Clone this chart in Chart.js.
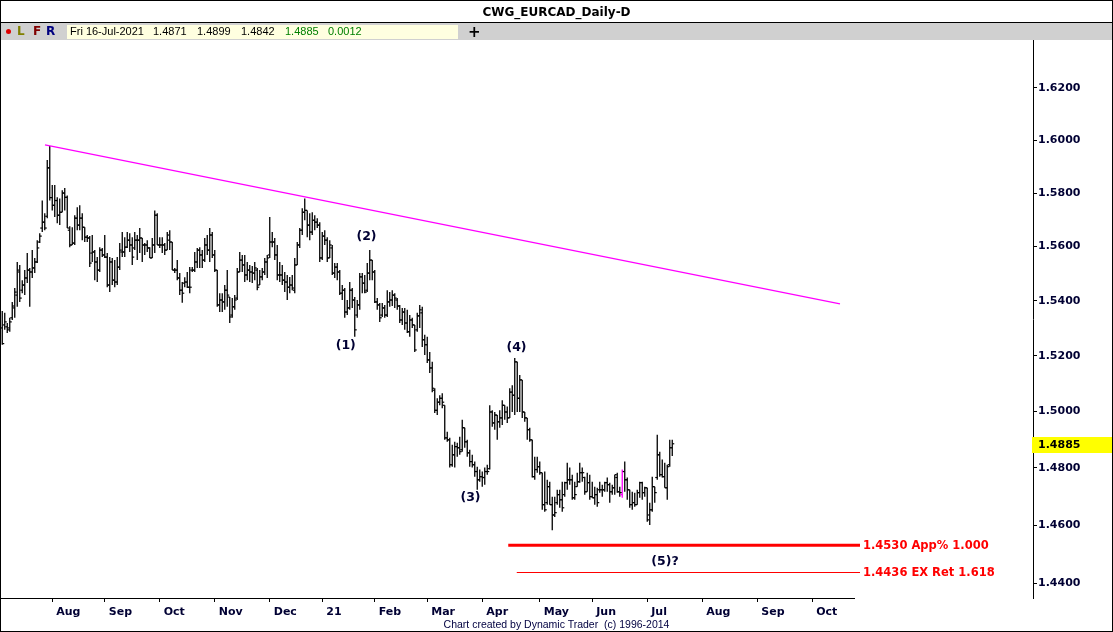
<!DOCTYPE html>
<html><head><meta charset="utf-8">
<script src="https://cdn.jsdelivr.net/npm/chart.js@4.4.1/dist/chart.umd.min.js"></script>
<style>
html,body{margin:0;padding:0;background:#fff;}
#wrap{position:relative;width:1113px;height:632px;overflow:hidden;background:#fff;}
#c{position:absolute;left:0;top:0;}
.abs{position:absolute;white-space:pre;}
#title{left:0;top:5px;width:1113px;height:14px;line-height:14px;text-align:center;font:bold 12px "DejaVu Sans",sans-serif;color:#000;}
#sep{left:0;top:22px;width:1113px;height:1px;background:#000;}
#tbar{left:0;top:23px;width:1113px;height:17px;background:#d0d0d0;}
#ybox{left:67px;top:25px;width:391px;height:14px;background:#ffffe0;}
.tb{top:25px;line-height:14px;font:11px "Liberation Sans",Arial,sans-serif;color:#000;}
.g{color:#008000;}
.lfr{top:24px;line-height:15px;font:bold 12px "DejaVu Sans",sans-serif;}
#dot{left:6px;top:29px;width:5px;height:5px;border-radius:50%;background:#e00000;}
#plus{left:468px;top:23px;line-height:16px;font:bold 15px "DejaVu Sans",sans-serif;color:#000;}
#frame{left:0;top:0;width:1113px;height:632px;box-sizing:border-box;border:1px solid #000;pointer-events:none;}
#foot{left:0;width:1113px;top:618px;line-height:12px;text-align:center;font:10.5px "Liberation Sans",Arial,sans-serif;color:#000040;}
</style></head><body>
<div id="wrap">
<canvas id="c" width="1113" height="632"></canvas>
<div class="abs" id="title">CWG_EURCAD_Daily-D</div>
<div class="abs" id="sep"></div>
<div class="abs" id="tbar"></div>
<div class="abs" id="dot"></div>
<div class="abs lfr" style="left:17px;color:#808000">L</div>
<div class="abs lfr" style="left:33px;color:#800000">F</div>
<div class="abs lfr" style="left:46px;color:#000080">R</div>
<div class="abs" id="ybox"></div>
<div class="abs tb" style="left:70px">Fri 16-Jul-2021</div>
<div class="abs tb" style="left:153px">1.4871</div>
<div class="abs tb" style="left:197px">1.4899</div>
<div class="abs tb" style="left:241px">1.4842</div>
<div class="abs tb g" style="left:285px">1.4885</div>
<div class="abs tb g" style="left:328px">0.0012</div>
<div class="abs" id="plus">+</div>
<div class="abs" id="foot">Chart created by Dynamic Trader  (c) 1996-2014</div>
<div class="abs" id="frame"></div>
</div>
<script>
// ---- data (daily bars, Jul 6 2020 .. Jul 16 2021) ----
const opens = [
1.5301,1.5312,1.5305,1.5301,1.5338,1.5374,1.5421,1.5506,1.5439,1.5458,
1.5484,1.5513,1.5506,1.5521,1.5543,1.5617,1.5669,1.5691,1.5713,1.5895,
1.5783,1.5754,1.5772,1.5717,1.5728,1.5800,1.5784,1.5661,1.5606,1.5613,
1.5706,1.5680,1.5706,1.5672,1.5635,1.5632,1.5576,1.5580,1.5543,1.5513,
1.5587,1.5569,1.5561,1.5458,1.5543,1.5476,1.5469,1.5524,1.5580,1.5580,
1.5598,1.5624,1.5606,1.5595,1.5624,1.5624,1.5632,1.5606,1.5606,1.5595,
1.5558,1.5606,1.5717,1.5606,1.5606,1.5606,1.5587,1.5624,1.5617,1.5513,
1.5513,1.5484,1.5439,1.5465,1.5469,1.5450,1.5513,1.5513,1.5543,1.5587,
1.5569,1.5550,1.5606,1.5587,1.5643,1.5569,1.5513,1.5385,1.5403,1.5396,
1.5439,1.5414,1.5348,1.5378,1.5410,1.5506,1.5550,1.5532,1.5495,1.5513,
1.5506,1.5502,1.5513,1.5458,1.5488,1.5506,1.5543,1.5569,1.5617,1.5617,
1.5569,1.5495,1.5495,1.5476,1.5469,1.5450,1.5458,1.5439,1.5532,1.5606,
1.5661,1.5728,1.5735,1.5680,1.5654,1.5698,1.5691,1.5680,1.5558,1.5639,
1.5624,1.5558,1.5595,1.5502,1.5524,1.5506,1.5428,1.5439,1.5359,1.5374,
1.5439,1.5403,1.5348,1.5385,1.5488,1.5465,1.5439,1.5502,1.5550,1.5506,
1.5396,1.5385,1.5348,1.5374,1.5348,1.5396,1.5403,1.5421,1.5403,1.5381,
1.5330,1.5359,1.5319,1.5287,1.5330,1.5312,1.5294,1.5345,1.5356,1.5258,
1.5240,1.5185,1.5156,1.5076,1.5004,1.5033,1.5047,1.5022,1.4906,1.4899,
1.4811,1.4846,1.4875,1.4871,1.4864,1.4942,1.4892,1.4853,1.4822,1.4811,
1.4787,1.4758,1.4769,1.4766,1.4787,1.4797,1.4998,1.4959,1.4987,1.4963,
1.4977,1.5022,1.4998,1.4977,1.5069,1.5058,1.5178,1.5047,1.5113,1.4998,
1.4977,1.4935,1.4899,1.4769,1.4794,1.4804,1.4783,1.4671,1.4678,1.4734,
1.4671,1.4635,1.4678,1.4706,1.4688,1.4706,1.4748,1.4758,1.4758,1.4695,
1.4734,1.4751,1.4783,1.4766,1.4716,1.4748,1.4699,1.4695,1.4706,1.4723,
1.4723,1.4723,1.4748,1.4741,1.4716,1.4730,1.4766,1.4716,1.4706,1.4787,
1.4758,1.4723,1.4671,1.4678,1.4671,1.4713,1.4748,1.4713,1.4730,1.4635,
1.4653,1.4734,1.4766,1.4846,1.4776,1.4769,1.4730,1.4811,1.4871];
const highs = [
1.5363,1.5356,1.5319,1.5338,1.5396,1.5447,1.5543,1.5532,1.5476,1.5513,
1.5576,1.5521,1.5587,1.5558,1.5624,1.5650,1.5772,1.5724,1.5925,1.5978,
1.5830,1.5830,1.5784,1.5780,1.5811,1.5819,1.5791,1.5676,1.5672,1.5717,
1.5747,1.5754,1.5724,1.5672,1.5643,1.5639,1.5643,1.5587,1.5561,1.5598,
1.5595,1.5643,1.5576,1.5561,1.5558,1.5550,1.5561,1.5613,1.5654,1.5635,
1.5654,1.5650,1.5635,1.5654,1.5643,1.5669,1.5632,1.5613,1.5624,1.5598,
1.5632,1.5735,1.5724,1.5635,1.5635,1.5613,1.5654,1.5661,1.5617,1.5521,
1.5550,1.5502,1.5469,1.5487,1.5506,1.5524,1.5524,1.5580,1.5595,1.5598,
1.5587,1.5632,1.5643,1.5669,1.5654,1.5587,1.5513,1.5428,1.5428,1.5458,
1.5513,1.5414,1.5410,1.5421,1.5521,1.5580,1.5569,1.5569,1.5543,1.5532,
1.5528,1.5543,1.5521,1.5513,1.5521,1.5558,1.5569,1.5710,1.5654,1.5632,
1.5606,1.5543,1.5532,1.5506,1.5495,1.5488,1.5495,1.5558,1.5617,1.5669,
1.5743,1.5780,1.5735,1.5724,1.5728,1.5717,1.5706,1.5691,1.5654,1.5661,
1.5635,1.5624,1.5606,1.5539,1.5539,1.5513,1.5458,1.5447,1.5403,1.5469,
1.5447,1.5414,1.5403,1.5502,1.5502,1.5495,1.5539,1.5587,1.5550,1.5513,
1.5410,1.5392,1.5392,1.5385,1.5439,1.5432,1.5439,1.5428,1.5410,1.5385,
1.5374,1.5374,1.5367,1.5348,1.5338,1.5312,1.5356,1.5385,1.5378,1.5276,
1.5269,1.5214,1.5178,1.5083,1.5047,1.5058,1.5065,1.5022,1.4928,1.4906,
1.4882,1.4892,1.4889,1.4910,1.4970,1.4942,1.4899,1.4864,1.4846,1.4822,
1.4804,1.4794,1.4787,1.4801,1.4811,1.5022,1.5004,1.4998,1.4987,1.5004,
1.5040,1.5022,1.5018,1.5083,1.5094,1.5192,1.5178,1.5131,1.5113,1.4998,
1.4977,1.4942,1.4899,1.4839,1.4839,1.4822,1.4783,1.4787,1.4758,1.4751,
1.4699,1.4699,1.4723,1.4723,1.4751,1.4751,1.4818,1.4801,1.4776,1.4751,
1.4783,1.4818,1.4801,1.4769,1.4783,1.4776,1.4751,1.4734,1.4730,1.4751,
1.4741,1.4751,1.4766,1.4748,1.4741,1.4776,1.4783,1.4734,1.4794,1.4822,
1.4766,1.4723,1.4716,1.4713,1.4723,1.4751,1.4751,1.4734,1.4730,1.4678,
1.4769,1.4734,1.4917,1.4857,1.4829,1.4818,1.4811,1.4899,1.4899];
const lows = [
1.5240,1.5294,1.5283,1.5287,1.5330,1.5338,1.5378,1.5396,1.5428,1.5421,
1.5465,1.5378,1.5484,1.5502,1.5539,1.5613,1.5654,1.5661,1.5706,1.5772,
1.5735,1.5710,1.5687,1.5680,1.5728,1.5735,1.5669,1.5598,1.5606,1.5606,
1.5661,1.5661,1.5624,1.5617,1.5617,1.5524,1.5543,1.5476,1.5469,1.5506,
1.5561,1.5558,1.5450,1.5432,1.5458,1.5450,1.5458,1.5513,1.5561,1.5561,
1.5595,1.5580,1.5532,1.5587,1.5550,1.5576,1.5543,1.5569,1.5580,1.5558,
1.5558,1.5576,1.5606,1.5595,1.5576,1.5569,1.5587,1.5587,1.5513,1.5502,
1.5476,1.5421,1.5393,1.5450,1.5447,1.5428,1.5506,1.5506,1.5521,1.5521,
1.5521,1.5543,1.5569,1.5543,1.5558,1.5506,1.5378,1.5359,1.5359,1.5367,
1.5378,1.5319,1.5338,1.5367,1.5403,1.5506,1.5506,1.5469,1.5476,1.5469,
1.5465,1.5476,1.5439,1.5458,1.5476,1.5495,1.5484,1.5558,1.5598,1.5550,
1.5476,1.5469,1.5458,1.5432,1.5403,1.5428,1.5439,1.5428,1.5532,1.5595,
1.5643,1.5698,1.5635,1.5624,1.5643,1.5661,1.5669,1.5543,1.5550,1.5606,
1.5543,1.5558,1.5495,1.5484,1.5476,1.5421,1.5403,1.5338,1.5348,1.5367,
1.5374,1.5269,1.5338,1.5367,1.5428,1.5428,1.5432,1.5476,1.5476,1.5392,
1.5367,1.5323,1.5341,1.5338,1.5341,1.5378,1.5381,1.5374,1.5367,1.5319,
1.5312,1.5294,1.5283,1.5269,1.5301,1.5214,1.5287,1.5301,1.5232,1.5203,
1.5174,1.5138,1.5069,1.4994,1.4987,1.5022,1.5011,1.4899,1.4892,1.4801,
1.4804,1.4801,1.4839,1.4846,1.4857,1.4871,1.4839,1.4804,1.4801,1.4769,
1.4723,1.4751,1.4734,1.4741,1.4776,1.4794,1.4945,1.4935,1.4899,1.4942,
1.4952,1.4970,1.4959,1.4977,1.4998,1.4987,1.4998,1.4998,1.4977,1.4963,
1.4899,1.4892,1.4766,1.4758,1.4783,1.4776,1.4653,1.4646,1.4671,1.4671,
1.4582,1.4628,1.4671,1.4660,1.4646,1.4699,1.4723,1.4741,1.4688,1.4688,
1.4734,1.4748,1.4751,1.4706,1.4716,1.4688,1.4695,1.4671,1.4664,1.4713,
1.4699,1.4716,1.4716,1.4678,1.4706,1.4706,1.4713,1.4699,1.4695,1.4716,
1.4688,1.4660,1.4653,1.4664,1.4671,1.4695,1.4688,1.4699,1.4611,1.4600,
1.4646,1.4678,1.4758,1.4769,1.4766,1.4730,1.4688,1.4804,1.4842];
const closes = [
1.5244,1.5323,1.5294,1.5323,1.5381,1.5432,1.5513,1.5410,1.5458,1.5484,
1.5513,1.5506,1.5521,1.5543,1.5595,1.5639,1.5691,1.5669,1.5895,1.5783,
1.5754,1.5772,1.5717,1.5728,1.5800,1.5784,1.5669,1.5606,1.5613,1.5706,
1.5680,1.5706,1.5672,1.5635,1.5632,1.5539,1.5580,1.5543,1.5513,1.5587,
1.5569,1.5561,1.5458,1.5543,1.5476,1.5469,1.5524,1.5587,1.5580,1.5598,
1.5624,1.5606,1.5561,1.5624,1.5624,1.5632,1.5606,1.5606,1.5595,1.5558,
1.5606,1.5717,1.5606,1.5606,1.5606,1.5587,1.5643,1.5617,1.5513,1.5513,
1.5484,1.5439,1.5428,1.5469,1.5450,1.5450,1.5513,1.5543,1.5587,1.5569,
1.5550,1.5606,1.5587,1.5643,1.5569,1.5513,1.5385,1.5403,1.5396,1.5439,
1.5421,1.5341,1.5378,1.5403,1.5506,1.5550,1.5532,1.5495,1.5513,1.5506,
1.5502,1.5521,1.5450,1.5488,1.5506,1.5543,1.5558,1.5617,1.5617,1.5569,
1.5495,1.5495,1.5476,1.5469,1.5450,1.5458,1.5447,1.5532,1.5606,1.5661,
1.5728,1.5735,1.5680,1.5654,1.5698,1.5691,1.5680,1.5558,1.5639,1.5624,
1.5558,1.5606,1.5502,1.5524,1.5506,1.5428,1.5439,1.5359,1.5374,1.5439,
1.5403,1.5294,1.5385,1.5488,1.5465,1.5432,1.5502,1.5550,1.5506,1.5396,
1.5385,1.5338,1.5374,1.5348,1.5396,1.5403,1.5421,1.5410,1.5381,1.5330,
1.5359,1.5319,1.5287,1.5330,1.5312,1.5221,1.5345,1.5367,1.5258,1.5240,
1.5185,1.5156,1.5083,1.5004,1.5033,1.5047,1.5033,1.4906,1.4899,1.4811,
1.4846,1.4875,1.4871,1.4857,1.4942,1.4892,1.4853,1.4822,1.4811,1.4787,
1.4758,1.4769,1.4766,1.4787,1.4787,1.4998,1.4959,1.4987,1.4963,1.4977,
1.5022,1.4998,1.4977,1.5069,1.5058,1.5178,1.5047,1.5113,1.4998,1.4977,
1.4935,1.4899,1.4769,1.4794,1.4804,1.4783,1.4671,1.4653,1.4734,1.4671,
1.4635,1.4643,1.4706,1.4688,1.4660,1.4748,1.4758,1.4758,1.4695,1.4706,
1.4751,1.4783,1.4783,1.4716,1.4748,1.4699,1.4695,1.4706,1.4678,1.4723,
1.4723,1.4748,1.4741,1.4716,1.4730,1.4776,1.4716,1.4713,1.4787,1.4758,
1.4723,1.4671,1.4678,1.4671,1.4713,1.4748,1.4713,1.4730,1.4618,1.4653,
1.4734,1.4713,1.4846,1.4776,1.4769,1.4730,1.4804,1.4871,1.4885];

const highlightIdx = 248;            // bar drawn in magenta
const monthLabels = ['Aug','Sep','Oct','Nov','Dec','21','Feb','Mar','Apr','May','Jun','Jul','Aug','Sep','Oct'];
const monthTickIdx = [20,41,63,85,107,128,149,170,192,215,236,258,280,302,324];
const yTicks = [1.44,1.46,1.48,1.50,1.52,1.54,1.56,1.58,1.60,1.62];

const trendIdx = [17.1, 335.1];
const trendVal = [1.5982, 1.5389];

const targetLevels = [1.4530, 1.4436];
const targetNames = ['App% 1.000', 'EX Ret 1.618'];
const targetStartIdx = [202.4, 205.8];
const targetEndIdx = 343.1;
const targetWidths = [3, 1];

const waveLabels = ['(1)','(2)','(3)','(4)','(5)?'];
const waveIdx = [137.4, 145.7, 187.3, 205.7, 265.1];
const wavePrice = [1.5236, 1.5635, 1.4695, 1.5230, 1.4472];

const axisEndIdx = 341.1;
const lastClose = closes[closes.length - 1];

// ---- chart ----
const NAVY = '#000033';
const FONT = 'DejaVu Sans';
const barColor = c => c.dataIndex === highlightIdx ? '#ff00ff' : '#000000';

const overlay = {
  id: 'overlay',
  afterDatasetsDraw(chart) {
    const {ctx, scales:{x, y}} = chart;
    ctx.save();
    ctx.font = 'bold 12.5px "' + FONT + '"';
    ctx.fillStyle = NAVY;
    ctx.textAlign = 'center';
    ctx.textBaseline = 'middle';
    waveLabels.forEach((t, i) => ctx.fillText(t, x.getPixelForValue(waveIdx[i]), y.getPixelForValue(wavePrice[i])));
    ctx.font = 'bold 11.5px "' + FONT + '"';
    ctx.fillStyle = '#ff0000';
    ctx.textAlign = 'left';
    targetLevels.forEach((v, i) => ctx.fillText(v.toFixed(4) + ' ' + targetNames[i], x.getPixelForValue(targetEndIdx) + 3, y.getPixelForValue(v) + 1));
    ctx.restore();
  },
  afterDraw(chart) {
    const {ctx, chartArea, scales:{x, y}} = chart;
    ctx.save();
    ctx.strokeStyle = '#000';
    ctx.lineWidth = 1;
    ctx.beginPath();
    ctx.moveTo(0, Math.round(chartArea.bottom) + 0.5);
    ctx.lineTo(x.getPixelForValue(axisEndIdx), Math.round(chartArea.bottom) + 0.5);
    ctx.stroke();
    const py = Math.round(y.getPixelForValue(lastClose)) + 1;
    ctx.fillStyle = '#ffff00';
    ctx.fillRect(y.left - 1, py - 8, chart.width - y.left + 1, 16);
    ctx.fillStyle = '#000';
    ctx.font = 'bold 11px "' + FONT + '"';
    ctx.textAlign = 'left';
    ctx.textBaseline = 'middle';
    ctx.fillText(lastClose.toFixed(4), y.left + 5, py);
    ctx.restore();
  }
};

const tickDs = (vals, rot) => ({
  type: 'scatter', clip: false,
  data: vals.map((v, k) => ({x: k, y: v})),
  pointStyle: 'dash', pointRadius: 2, pointHoverRadius: 2, pointRotation: rot,
  pointBorderWidth: 1.2, pointBorderColor: barColor, pointBackgroundColor: barColor,
  showLine: false, order: 2
});

new Chart(document.getElementById('c'), {
  type: 'bar',
  data: {
    datasets: [
      { type: 'bar', clip: false, data: highs.map((h, k) => ({x: k, y: [lows[k], h]})),
        backgroundColor: barColor, borderWidth: 0, barThickness: 1.3, inflateAmount: 0, order: 3 },
      tickDs(opens, 180),
      tickDs(closes, 0),
      { type: 'line', data: trendIdx.map((v, i) => ({x: v, y: trendVal[i]})),
        borderColor: '#ff00ff', borderWidth: 1.2, pointRadius: 0, order: 1 },
      ...targetLevels.map((v, i) => ({ type: 'line',
        data: [{x: targetStartIdx[i], y: v}, {x: targetEndIdx, y: v}],
        borderColor: '#ff0000', borderWidth: targetWidths[i], pointRadius: 0, order: 1 }))
    ]
  },
  options: {
    responsive: false, animation: false, events: [],
    layout: { padding: { top: 40, left: 0, right: 0, bottom: 0 } },
    plugins: { legend: { display: false }, tooltip: { enabled: false } },
    scales: {
      x: {
        type: 'linear', position: 'bottom', min: 0.38, max: 412.3, offset: false, bounds: 'data',
        afterBuildTicks: s => { s.ticks = monthTickIdx.map(v => ({value: v})); },
        afterFit: s => { s.height = 34; },
        ticks: { autoSkip: false, maxRotation: 0, align: 'start', labelOffset: 4, padding: 4,
          callback: (v, i) => monthLabels[i], color: NAVY, font: { family: FONT, size: 11, weight: 'bold' } },
        grid: { drawOnChartArea: false, drawTicks: true, tickLength: 4, color: '#000', offset: false },
        border: { display: false }
      },
      y: {
        type: 'logarithmic', position: 'right', min: 1.43487, max: 1.6386, beginAtZero: false, bounds: 'data',
        afterBuildTicks: s => { s.ticks = yTicks.map(v => ({value: v})); },
        afterFit: s => { s.width = 80; },
        ticks: { autoSkip: false, padding: 1, callback: v => Number(v).toFixed(4), color: NAVY,
          font: { family: FONT, size: 11, weight: 'bold' } },
        grid: { drawOnChartArea: false, drawTicks: true, tickLength: 4, color: '#000' },
        border: { display: true, color: '#000', width: 1 }
      }
    }
  },
  plugins: [overlay]
});
</script>
</body></html>
